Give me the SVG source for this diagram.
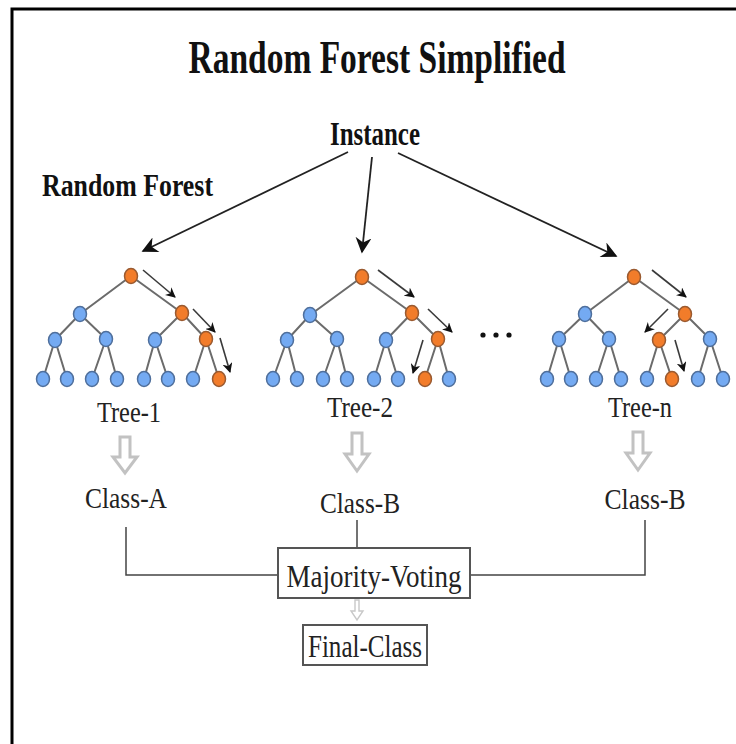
<svg xmlns="http://www.w3.org/2000/svg" width="736" height="744" viewBox="0 0 736 744">
  <defs>
    <marker id="head" viewBox="0 0 10 10" refX="9" refY="5" markerWidth="10" markerHeight="10" markerUnits="userSpaceOnUse" orient="auto">
      <path d="M0,0 L10,5 L0,10 L3,5 Z" fill="#111"/>
    </marker>
    <marker id="headBig" viewBox="0 0 10 10" refX="9" refY="5" markerWidth="18" markerHeight="16" markerUnits="userSpaceOnUse" orient="auto">
      <path d="M0,0 L10,5 L0,10 L3,5 Z" fill="#111"/>
    </marker>
    <style>
      .title { font-family: "Liberation Serif", "Times New Roman", serif; font-weight: bold; fill: #111; }
      .label { font-family: "Liberation Serif", "Times New Roman", serif; fill: #222; }
      .edge { stroke: #6b6b6b; stroke-width: 2; fill: none; }
      .blue { fill: #74aaf2; stroke: #4f6f9c; stroke-width: 1.5; }
      .orange { fill: #f27c2a; stroke: #9a5a30; stroke-width: 1.5; }
      .path-arrow { stroke: #3a3a3a; stroke-width: 1.6; fill: none; marker-end: url(#head); }
      .main-arrow { stroke: #222; stroke-width: 1.8; fill: none; marker-end: url(#headBig); }
      .hollow { fill: #fff; stroke: #c2c2c2; stroke-width: 3; stroke-linejoin: miter; }
      .hollow-small { fill: #fff; stroke: #c8c8c8; stroke-width: 1.4; }
      .wire { stroke: #444; stroke-width: 1.5; fill: none; }
      .box { fill: #fff; stroke: #555; stroke-width: 2; }
    </style>
  </defs>

  <rect width="736" height="744" fill="#fff"/>
  <!-- frame: only top and left edges fall inside the canvas -->
  <path d="M12,744 V9 H736" fill="none" stroke="#000" stroke-width="3"/>

  <text class="title" x="377" y="73" font-size="46" text-anchor="middle" textLength="377" lengthAdjust="spacingAndGlyphs">Random Forest Simplified</text>
  <text class="title" x="42" y="196" font-size="31" textLength="171" lengthAdjust="spacingAndGlyphs">Random Forest</text>

  <g id="instance">
    <text class="title" x="375" y="145" font-size="33" text-anchor="middle" textLength="90" lengthAdjust="spacingAndGlyphs">Instance</text>
  </g>

  <g id="connectors">
    <line class="main-arrow" x1="348" y1="152" x2="143" y2="251"/>
    <line class="main-arrow" x1="372" y1="157" x2="362" y2="252"/>
    <line class="main-arrow" x1="398" y1="153" x2="616" y2="256"/>

    <path class="hollow" d="M120,437 H130 V457 H137 L125,473 L113,457 H120 Z"/>
    <path class="hollow" d="M352,433 H362 V454 H369 L357,471 L345,454 H352 Z"/>
    <path class="hollow" d="M633,432 H643 V453 H650 L638,470 L626,453 H633 Z"/>

    <path class="wire" d="M126,527 V575 H278"/>
    <path class="wire" d="M357,520 V548"/>
    <path class="wire" d="M645,520 V575 H470"/>

    <path class="hollow-small" d="M355,600 H359 V611 H363 L357,620 L351,611 H355 Z"/>
  </g>

  <g id="tree-1">
    <path class="edge" d="M131,276 L80,314 M131,276 L182,313 M80,314 L55,340 M80,314 L106,339 M182,313 L155,340 M182,313 L206,339 M55,340 L43,379 M55,340 L67,379 M106,339 L92,379 M106,339 L117,379 M155,340 L144,379 M155,340 L168,379 M206,339 L193,379 M206,339 L219,379"/>
    <ellipse class="orange" cx="131" cy="276" rx="6.5" ry="7.5"/>
    <ellipse class="blue" cx="80" cy="314" rx="6.5" ry="7.5"/>
    <ellipse class="orange" cx="182" cy="313" rx="6.5" ry="7.5"/>
    <ellipse class="blue" cx="55" cy="340" rx="6.5" ry="7.5"/>
    <ellipse class="blue" cx="106" cy="339" rx="6.5" ry="7.5"/>
    <ellipse class="blue" cx="155" cy="340" rx="6.5" ry="7.5"/>
    <ellipse class="orange" cx="206" cy="339" rx="6.5" ry="7.5"/>
    <ellipse class="blue" cx="43" cy="379" rx="6.5" ry="7.5"/>
    <ellipse class="blue" cx="67" cy="379" rx="6.5" ry="7.5"/>
    <ellipse class="blue" cx="92" cy="379" rx="6.5" ry="7.5"/>
    <ellipse class="blue" cx="117" cy="379" rx="6.5" ry="7.5"/>
    <ellipse class="blue" cx="144" cy="379" rx="6.5" ry="7.5"/>
    <ellipse class="blue" cx="168" cy="379" rx="6.5" ry="7.5"/>
    <ellipse class="blue" cx="193" cy="379" rx="6.5" ry="7.5"/>
    <ellipse class="orange" cx="219" cy="379" rx="6.5" ry="7.5"/>
    <line class="path-arrow" x1="143" y1="270" x2="175" y2="297"/>
    <line class="path-arrow" x1="193" y1="309" x2="215" y2="332"/>
    <line class="path-arrow" x1="220" y1="338" x2="230" y2="372"/>
    <text class="label" x="129" y="422" font-size="30" text-anchor="middle" textLength="64" lengthAdjust="spacingAndGlyphs">Tree-1</text>
  </g>

  <g id="tree-2">
    <path class="edge" d="M362,277 L310,315 M362,277 L412,313 M310,315 L287,340 M310,315 L337,339 M412,313 L386,340 M412,313 L438,339 M287,340 L273,379 M287,340 L297,379 M337,339 L323,379 M337,339 L347,379 M386,340 L374,379 M386,340 L398,379 M438,339 L425,379 M438,339 L449,379"/>
    <ellipse class="orange" cx="362" cy="277" rx="6.5" ry="7.5"/>
    <ellipse class="blue" cx="310" cy="315" rx="6.5" ry="7.5"/>
    <ellipse class="orange" cx="412" cy="313" rx="6.5" ry="7.5"/>
    <ellipse class="blue" cx="287" cy="340" rx="6.5" ry="7.5"/>
    <ellipse class="blue" cx="337" cy="339" rx="6.5" ry="7.5"/>
    <ellipse class="blue" cx="386" cy="340" rx="6.5" ry="7.5"/>
    <ellipse class="orange" cx="438" cy="339" rx="6.5" ry="7.5"/>
    <ellipse class="blue" cx="273" cy="379" rx="6.5" ry="7.5"/>
    <ellipse class="blue" cx="297" cy="379" rx="6.5" ry="7.5"/>
    <ellipse class="blue" cx="323" cy="379" rx="6.5" ry="7.5"/>
    <ellipse class="blue" cx="347" cy="379" rx="6.5" ry="7.5"/>
    <ellipse class="blue" cx="374" cy="379" rx="6.5" ry="7.5"/>
    <ellipse class="blue" cx="398" cy="379" rx="6.5" ry="7.5"/>
    <ellipse class="orange" cx="425" cy="379" rx="6.5" ry="7.5"/>
    <ellipse class="blue" cx="449" cy="379" rx="6.5" ry="7.5"/>
    <line class="path-arrow" x1="378" y1="270" x2="414" y2="297"/>
    <line class="path-arrow" x1="428" y1="309" x2="452" y2="332"/>
    <line class="path-arrow" x1="423" y1="340" x2="413" y2="373"/>
    <text class="label" x="360" y="417" font-size="30" text-anchor="middle" textLength="66" lengthAdjust="spacingAndGlyphs">Tree-2</text>
  </g>

  <g id="ellipsis">
    <circle cx="483" cy="335" r="2.6" fill="#111"/>
    <circle cx="496" cy="335" r="2.6" fill="#111"/>
    <circle cx="509" cy="335" r="2.6" fill="#111"/>
  </g>

  <g id="tree-n">
    <path class="edge" d="M634,277 L585,314 M634,277 L685,314 M585,314 L559,339 M585,314 L609,339 M685,314 L659,340 M685,314 L710,339 M559,339 L547,379 M559,339 L571,379 M609,339 L596,379 M609,339 L621,379 M659,340 L647,379 M659,340 L672,379 M710,339 L698,379 M710,339 L723,379"/>
    <ellipse class="orange" cx="634" cy="277" rx="6.5" ry="7.5"/>
    <ellipse class="blue" cx="585" cy="314" rx="6.5" ry="7.5"/>
    <ellipse class="orange" cx="685" cy="314" rx="6.5" ry="7.5"/>
    <ellipse class="blue" cx="559" cy="339" rx="6.5" ry="7.5"/>
    <ellipse class="blue" cx="609" cy="339" rx="6.5" ry="7.5"/>
    <ellipse class="orange" cx="659" cy="340" rx="6.5" ry="7.5"/>
    <ellipse class="blue" cx="710" cy="339" rx="6.5" ry="7.5"/>
    <ellipse class="blue" cx="547" cy="379" rx="6.5" ry="7.5"/>
    <ellipse class="blue" cx="571" cy="379" rx="6.5" ry="7.5"/>
    <ellipse class="blue" cx="596" cy="379" rx="6.5" ry="7.5"/>
    <ellipse class="blue" cx="621" cy="379" rx="6.5" ry="7.5"/>
    <ellipse class="blue" cx="647" cy="379" rx="6.5" ry="7.5"/>
    <ellipse class="orange" cx="672" cy="379" rx="6.5" ry="7.5"/>
    <ellipse class="blue" cx="698" cy="379" rx="6.5" ry="7.5"/>
    <ellipse class="blue" cx="723" cy="379" rx="6.5" ry="7.5"/>
    <line class="path-arrow" x1="652" y1="270" x2="686" y2="297"/>
    <line class="path-arrow" x1="668" y1="309" x2="645" y2="332"/>
    <line class="path-arrow" x1="675" y1="340" x2="684" y2="371"/>
    <text class="label" x="640" y="417" font-size="30" text-anchor="middle" textLength="64" lengthAdjust="spacingAndGlyphs">Tree-n</text>
  </g>

  <g id="class-a">
    <text class="label" x="126" y="508" font-size="30" text-anchor="middle" textLength="82" lengthAdjust="spacingAndGlyphs">Class-A</text>
  </g>
  <g id="class-b-2">
    <text class="label" x="360" y="513" font-size="30" text-anchor="middle" textLength="80" lengthAdjust="spacingAndGlyphs">Class-B</text>
  </g>
  <g id="class-b-n">
    <text class="label" x="645" y="509" font-size="30" text-anchor="middle" textLength="81" lengthAdjust="spacingAndGlyphs">Class-B</text>
  </g>

  <g id="majority-voting">
    <rect class="box" x="278" y="548" width="192" height="50"/>
    <text class="label" x="374" y="587" font-size="32" text-anchor="middle" textLength="175" lengthAdjust="spacingAndGlyphs">Majority-Voting</text>
  </g>

  <g id="final-class">
    <rect class="box" x="303" y="625" width="124" height="40"/>
    <text class="label" x="365" y="657" font-size="32" text-anchor="middle" textLength="114" lengthAdjust="spacingAndGlyphs">Final-Class</text>
  </g>
</svg>
